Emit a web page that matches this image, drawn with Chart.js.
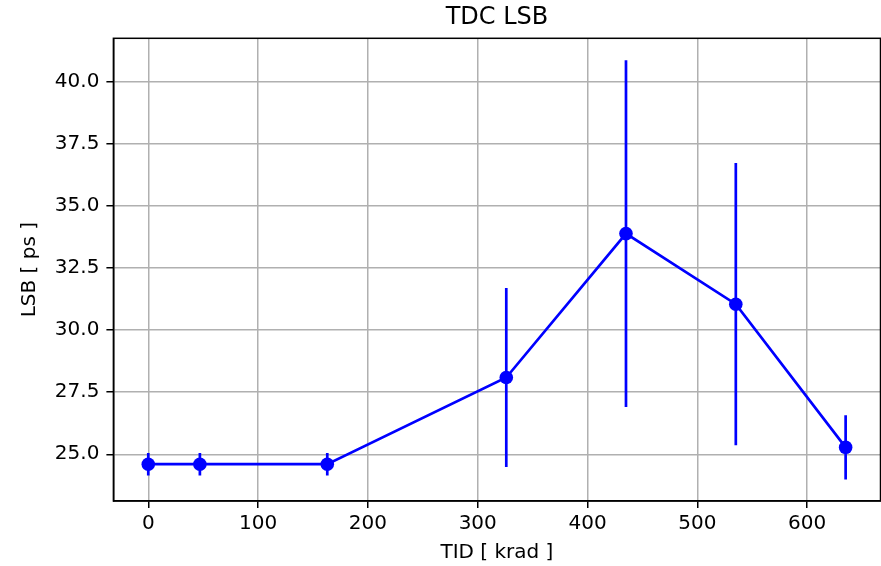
<!DOCTYPE html>
<html>
<head>
<meta charset="utf-8">
<script src="https://cdn.jsdelivr.net/npm/chart.js@4/dist/chart.umd.min.js"></script>
<style>
  html, body { margin: 0; padding: 0; background: #ffffff; }
  #c { display: block; }
</style>
</head>
<body>
<canvas id="c" width="881" height="566"></canvas>
<script>
// ---- data ----
const tidKrad = [0, 47, 163, 326, 435, 535, 635];
const lsbPs   = [24.6, 24.6, 24.6, 28.09, 33.88, 31.04, 25.28];
const lsbErr  = [0.45, 0.45, 0.45, 3.6, 6.98, 5.68, 1.29];

const xTicks = [0, 100, 200, 300, 400, 500, 600];
const yTicks = [25.0, 27.5, 30.0, 32.5, 35.0, 37.5, 40.0];
const xRange = [-31.75, 666.75];
const yRange = [23.12, 41.74];

const titleText = 'TDC LSB';
const xLabel = 'TID [ krad ]';
const yLabel = 'LSB [ ps ]';

const BLUE = '#0000ff';
const FONT = 'DejaVu Sans';

// main series
const mainData = tidKrad.map((x, i) => ({ x: x, y: lsbPs[i] }));

// error bars as two-point line datasets
const errDatasets = tidKrad.map((x, i) => ({
  data: [{ x: x, y: lsbPs[i] - lsbErr[i] }, { x: x, y: lsbPs[i] + lsbErr[i] }],
  showLine: true,
  borderColor: BLUE,
  borderWidth: 2.7,
  pointRadius: 0,
  pointHoverRadius: 0,
  fill: false
}));

const framePlugin = {
  id: 'frame',
  afterDatasetsDraw(chart) {
    const a = chart.chartArea;
    const ctx = chart.ctx;
    ctx.save();
    ctx.strokeStyle = '#000000';
    ctx.lineWidth = 1.5;
    ctx.strokeRect(a.left, a.top, a.right - a.left, a.bottom - a.top);
    ctx.restore();
  }
};

new Chart(document.getElementById('c'), {
  type: 'scatter',
  data: {
    datasets: [
      {
        data: mainData,
        showLine: true,
        borderColor: BLUE,
        borderWidth: 2.7,
        pointRadius: 6.8,
        pointBackgroundColor: BLUE,
        pointBorderColor: BLUE,
        pointBorderWidth: 0,
        tension: 0,
        fill: false
      },
      ...errDatasets
    ]
  },
  options: {
    responsive: false,
    animation: false,
    layout: { autoPadding: false, padding: { left: 0, right: 0.5, top: 0, bottom: 0 } },
    plugins: {
      legend: { display: false },
      tooltip: { enabled: false },
      title: {
        display: true,
        text: titleText,
        fullSize: false,
        color: '#000000',
        font: { family: FONT, size: 24, weight: 'normal', lineHeight: 1.2 },
        padding: { top: 3.3, bottom: 6.2 }
      }
    },
    scales: {
      x: {
        type: 'linear',
        min: xRange[0],
        max: xRange[1],
        afterBuildTicks: s => { s.ticks = xTicks.map(v => ({ value: v })); },
        afterFit: s => { s.height = 65; s.paddingLeft = 0; s.paddingRight = 0; },
        grid: {
          color: '#b0b0b0',
          lineWidth: 1.5,
          drawTicks: true,
          tickLength: 7,
          tickColor: '#000000',
          tickWidth: 1.5
        },
        border: { display: true, color: '#000000', width: 1.5 },
        ticks: {
          color: '#000000',
          padding: 4,
          maxRotation: 0,
          autoSkip: false,
          font: { family: FONT, size: 20, lineHeight: 1.2 },
          callback: v => String(v)
        },
        title: {
          display: true,
          text: xLabel,
          color: '#000000',
          font: { family: FONT, size: 20, lineHeight: 1.2 },
          padding: { top: 0, bottom: 1 }
        }
      },
      y: {
        type: 'linear',
        min: yRange[0],
        max: yRange[1],
        afterBuildTicks: s => { s.ticks = yTicks.map(v => ({ value: v })); },
        afterFit: s => { s.width = 113.4; s.paddingTop = 0; s.paddingBottom = 0; },
        grid: {
          color: '#b0b0b0',
          lineWidth: 1.5,
          drawTicks: true,
          tickLength: 7,
          tickColor: '#000000',
          tickWidth: 1.5
        },
        border: { display: true, color: '#000000', width: 1.5 },
        ticks: {
          color: '#000000',
          padding: 7,
          autoSkip: false,
          font: { family: FONT, size: 20, lineHeight: 1.2 },
          callback: v => Number(v).toFixed(1)
        },
        title: {
          display: true,
          text: yLabel,
          color: '#000000',
          font: { family: FONT, size: 20, lineHeight: 1.2 },
          padding: { top: 18, bottom: 0 }
        }
      }
    }
  },
  plugins: [framePlugin]
});
</script>
</body>
</html>
